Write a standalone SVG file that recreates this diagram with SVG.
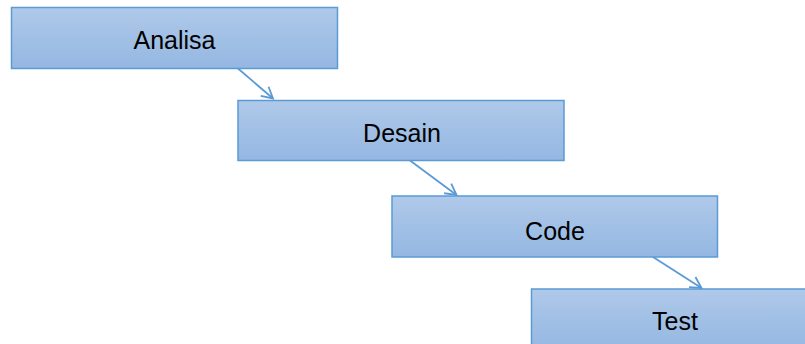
<svg xmlns="http://www.w3.org/2000/svg" width="805" height="344" viewBox="0 0 805 344">
<defs>
<linearGradient id="g" x1="0" y1="0" x2="0" y2="1">
<stop offset="0" stop-color="#afc9e9"/>
<stop offset="1" stop-color="#94b7e2"/>
</linearGradient>
<marker id="ah" markerWidth="14" markerHeight="14" refX="12" refY="7" orient="auto" markerUnits="userSpaceOnUse">
<path d="M1,1 L12,7 L1,13" fill="none" stroke="#5b9bd5" stroke-width="1.8"/>
</marker>
<style>
.box{fill:url(#g);stroke:#5b9bd5;stroke-width:1.5}
.lbl{font-family:"Liberation Sans",Arial,sans-serif;font-size:25px;fill:#000;text-anchor:middle}
.conn{stroke:#5b9bd5;stroke-width:1.8;fill:none;marker-end:url(#ah)}
</style>
</defs>
<rect width="805" height="344" fill="#fff"/>
<g id="connectors">
<line class="conn" x1="238" y1="68.5" x2="273" y2="98.5"/>
<line class="conn" x1="410" y1="160.5" x2="456.5" y2="195"/>
<line class="conn" x1="653" y1="257" x2="701.5" y2="288"/>
</g>
<g id="analisa">
<rect class="box" x="11.5" y="7.5" width="326" height="61"/>
<text class="lbl" x="174.5" y="49">Analisa</text>
</g>
<g id="desain">
<rect class="box" x="238" y="100.5" width="326" height="60"/>
<text class="lbl" x="402" y="141.5">Desain</text>
</g>
<g id="code">
<rect class="box" x="392" y="196" width="325.5" height="61"/>
<text class="lbl" x="555" y="239.5">Code</text>
</g>
<g id="test">
<rect class="box" x="531.5" y="289" width="326" height="61"/>
<text class="lbl" x="675" y="330">Test</text>
</g>
</svg>
